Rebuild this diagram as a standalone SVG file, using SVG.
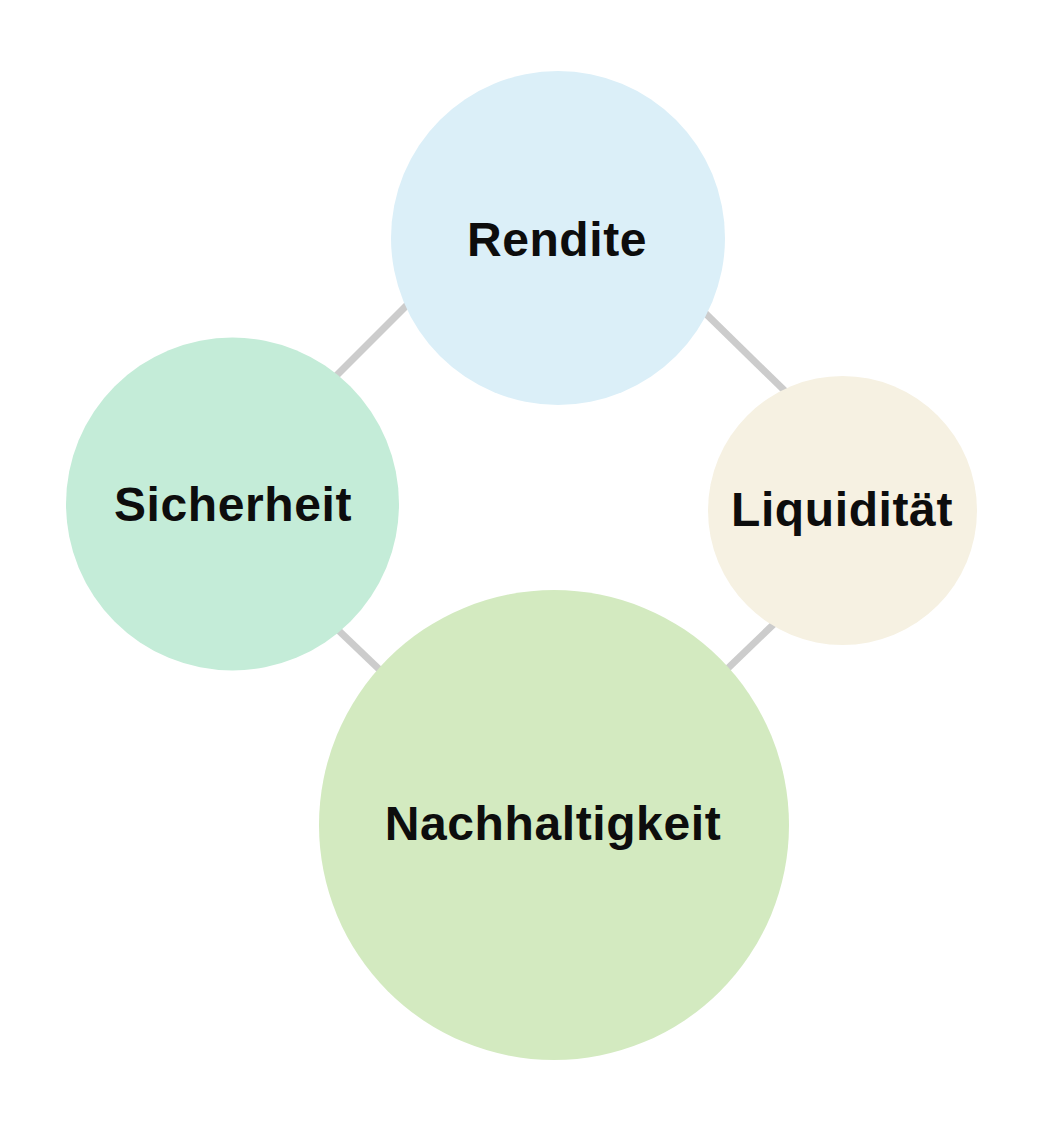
<svg xmlns="http://www.w3.org/2000/svg" width="1041" height="1122" viewBox="0 0 1041 1122">
<style>
.edge{stroke:#cccccc;stroke-width:7;fill:none}
.lbl{font-family:"Liberation Sans",Arial,sans-serif;font-weight:bold;font-size:48px;letter-spacing:0.6px;fill:#0d0d0d;text-anchor:middle}
</style>
<rect width="1041" height="1122" fill="#ffffff"/>
<g id="connectors">
<line class="edge" x1="410" y1="302" x2="334" y2="378"/>
<line class="edge" x1="701" y1="309" x2="786" y2="392"/>
<line class="edge" x1="336" y1="628" x2="382" y2="672"/>
<line class="edge" x1="777" y1="621" x2="724" y2="672"/>
</g>
<g id="rendite">
<circle cx="558" cy="238" r="167" fill="#dbeff8"/>
<text class="lbl" x="557" y="256">Rendite</text>
</g>
<g id="sicherheit">
<circle cx="232.5" cy="504" r="166.5" fill="#c4ecd8"/>
<text class="lbl" x="233" y="521">Sicherheit</text>
</g>
<g id="liquiditaet">
<circle cx="842.5" cy="510.5" r="134.5" fill="#f6f1e2"/>
<text class="lbl" x="842" y="526">Liquidität</text>
</g>
<g id="nachhaltigkeit">
<circle cx="554" cy="825" r="235" fill="#d3eac0"/>
<text class="lbl" x="553" y="840">Nachhaltigkeit</text>
</g>
</svg>
